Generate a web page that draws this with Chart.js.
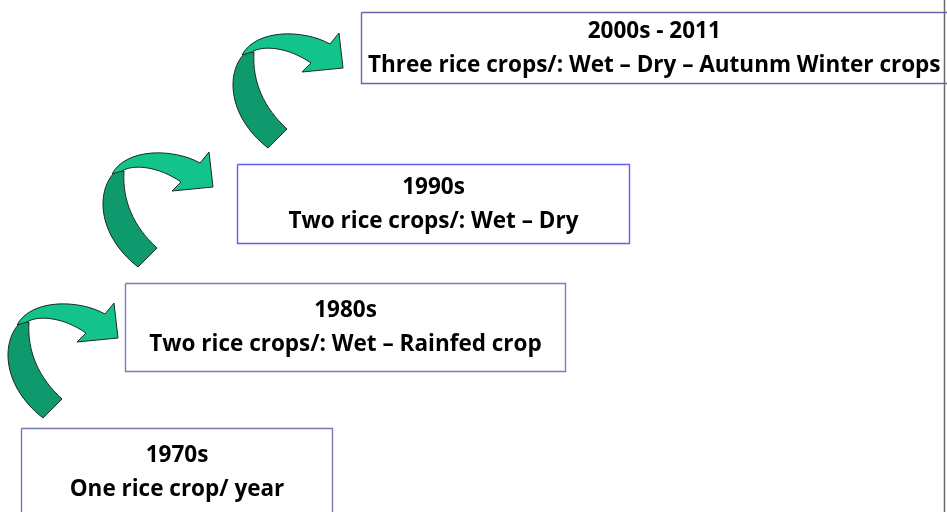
<!DOCTYPE html>
<html>
<head>
<meta charset="utf-8">
<script src="https://cdn.jsdelivr.net/npm/chart.js@4"></script>
<style>
  html, body { margin: 0; padding: 0; background: #ffffff; }
  #wrap { width: 947px; height: 512px; position: relative; }
</style>
</head>
<body>
<div id="wrap"><canvas id="c"></canvas></div>
<script>
// ---- data (units: picture coordinates) ----
const periods   = ['1970s', '1980s', '1990s', '2000s - 2011'];
const practices = ['One rice crop/ year',
                   'Two rice crops/: Wet \u2013 Rainfed crop',
                   'Two rice crops/: Wet \u2013 Dry',
                   'Three rice crops/: Wet \u2013 Dry \u2013 Autunm Winter crops'];
const boxLeft   = [21.5, 125.5, 237.5, 361.5];
const boxRight  = [332.5, 565.5, 629.5, 990];
const boxTop    = [428.5, 283.5, 164.5, 12.5];
const boxBottom = [540, 371.5, 243.5, 83.5];
const arrowTailX = [43, 138, 268];
const arrowTailY = [418, 267, 148];
const edgeLineX = [944.5, 944.5];
const edgeLineY = [0, 512];

// ---- styles ----
const boxColors = ['#7676b8', '#7a7abe', '#5e5ef0', '#6666ae'];
const lightGreen = '#12c48b';
const darkGreen = '#0f9a6d';

// arrow outline template (pixel offsets from the tail tip)
const tailPath = [
  ['M', -22, -96],
  ['C', -42, -78, -42, -33, 0, 0],
  ['L', 19, -19],
  ['C', -4, -40, -16, -66, -14, -96],
  ['Z']
];
const headPath = [
  ['M', -26, -93],
  ['C', -12, -119, 35, -119, 62, -104],
  ['L', 71, -115],
  ['L', 75, -80],
  ['L', 34, -76],
  ['L', 43, -85],
  ['C', 20, -101, -5, -103, -16, -96],
  ['Z']
];

const boxDatasets = periods.map((p, i) => ({
  label: p,
  data: [
    {x: boxLeft[i], y: boxTop[i]},
    {x: boxRight[i], y: boxTop[i]},
    {x: boxRight[i], y: boxBottom[i]},
    {x: boxLeft[i], y: boxBottom[i]},
    {x: boxLeft[i], y: boxTop[i]}
  ],
  showLine: true,
  borderColor: boxColors[i],
  borderWidth: 1.4,
  pointRadius: 0,
  fill: false,
  tension: 0
}));

const edgeDataset = {
  label: 'edge',
  data: edgeLineX.map((x, i) => ({x: x, y: edgeLineY[i]})),
  showLine: true,
  borderColor: '#6a6a6a',
  borderWidth: 1.5,
  pointRadius: 0
};

function tracePath(ctx, path, ox, oy, k) {
  ctx.beginPath();
  for (const s of path) {
    if (s[0] === 'M') ctx.moveTo(ox + s[1]*k, oy + s[2]*k);
    else if (s[0] === 'L') ctx.lineTo(ox + s[1]*k, oy + s[2]*k);
    else if (s[0] === 'C') ctx.bezierCurveTo(ox + s[1]*k, oy + s[2]*k, ox + s[3]*k, oy + s[4]*k, ox + s[5]*k, oy + s[6]*k);
    else if (s[0] === 'Z') ctx.closePath();
  }
}

const arrowPlugin = {
  id: 'arrows',
  beforeDatasetsDraw(chart) {
    const ctx = chart.ctx, xs = chart.scales.x, ys = chart.scales.y;
    const k = Math.abs(xs.getPixelForValue(1) - xs.getPixelForValue(0));
    ctx.save();
    ctx.lineWidth = 1;
    ctx.strokeStyle = '#1d2b22';
    ctx.lineJoin = 'miter';
    for (let i = 0; i < arrowTailX.length; i++) {
      const ox = xs.getPixelForValue(arrowTailX[i]);
      const oy = ys.getPixelForValue(arrowTailY[i]);
      tracePath(ctx, tailPath, ox, oy, k);
      ctx.fillStyle = darkGreen; ctx.fill(); ctx.stroke();
      tracePath(ctx, headPath, ox, oy, k);
      ctx.fillStyle = lightGreen; ctx.fill(); ctx.stroke();
    }
    ctx.restore();
  }
};

const labelPlugin = {
  id: 'labels',
  afterDatasetsDraw(chart) {
    const ctx = chart.ctx, xs = chart.scales.x, ys = chart.scales.y;
    ctx.save();
    ctx.fillStyle = '#000000';
    ctx.textAlign = 'center';
    ctx.textBaseline = 'middle';
    ctx.font = 'bold 22.5px "Open Sans", "Noto Sans", sans-serif';
    for (let i = 0; i < periods.length; i++) {
      const right = Math.min(boxRight[i], 947);
      const cx = (xs.getPixelForValue(boxLeft[i]) + xs.getPixelForValue(right)) / 2;
      const top = ys.getPixelForValue(boxTop[i]);
      const bot = ys.getPixelForValue(Math.min(boxBottom[i], boxTop[i] + 87));
      const cy = (top + bot) / 2;
      ctx.fillText(periods[i], cx, cy - 16);
      ctx.fillText(practices[i], cx, cy + 17.5);
    }
    ctx.restore();
  }
};

new Chart(document.getElementById('c'), {
  type: 'scatter',
  data: { datasets: [...boxDatasets, edgeDataset] },
  options: {
    responsive: true,
    maintainAspectRatio: false,
    animation: false,
    layout: { padding: 0 },
    plugins: { legend: { display: false }, tooltip: { enabled: false } },
    scales: {
      x: { type: 'linear', min: 0, max: 947, display: false },
      y: { type: 'linear', min: 0, max: 512, reverse: true, display: false }
    }
  },
  plugins: [arrowPlugin, labelPlugin]
});
</script>
</body>
</html>
